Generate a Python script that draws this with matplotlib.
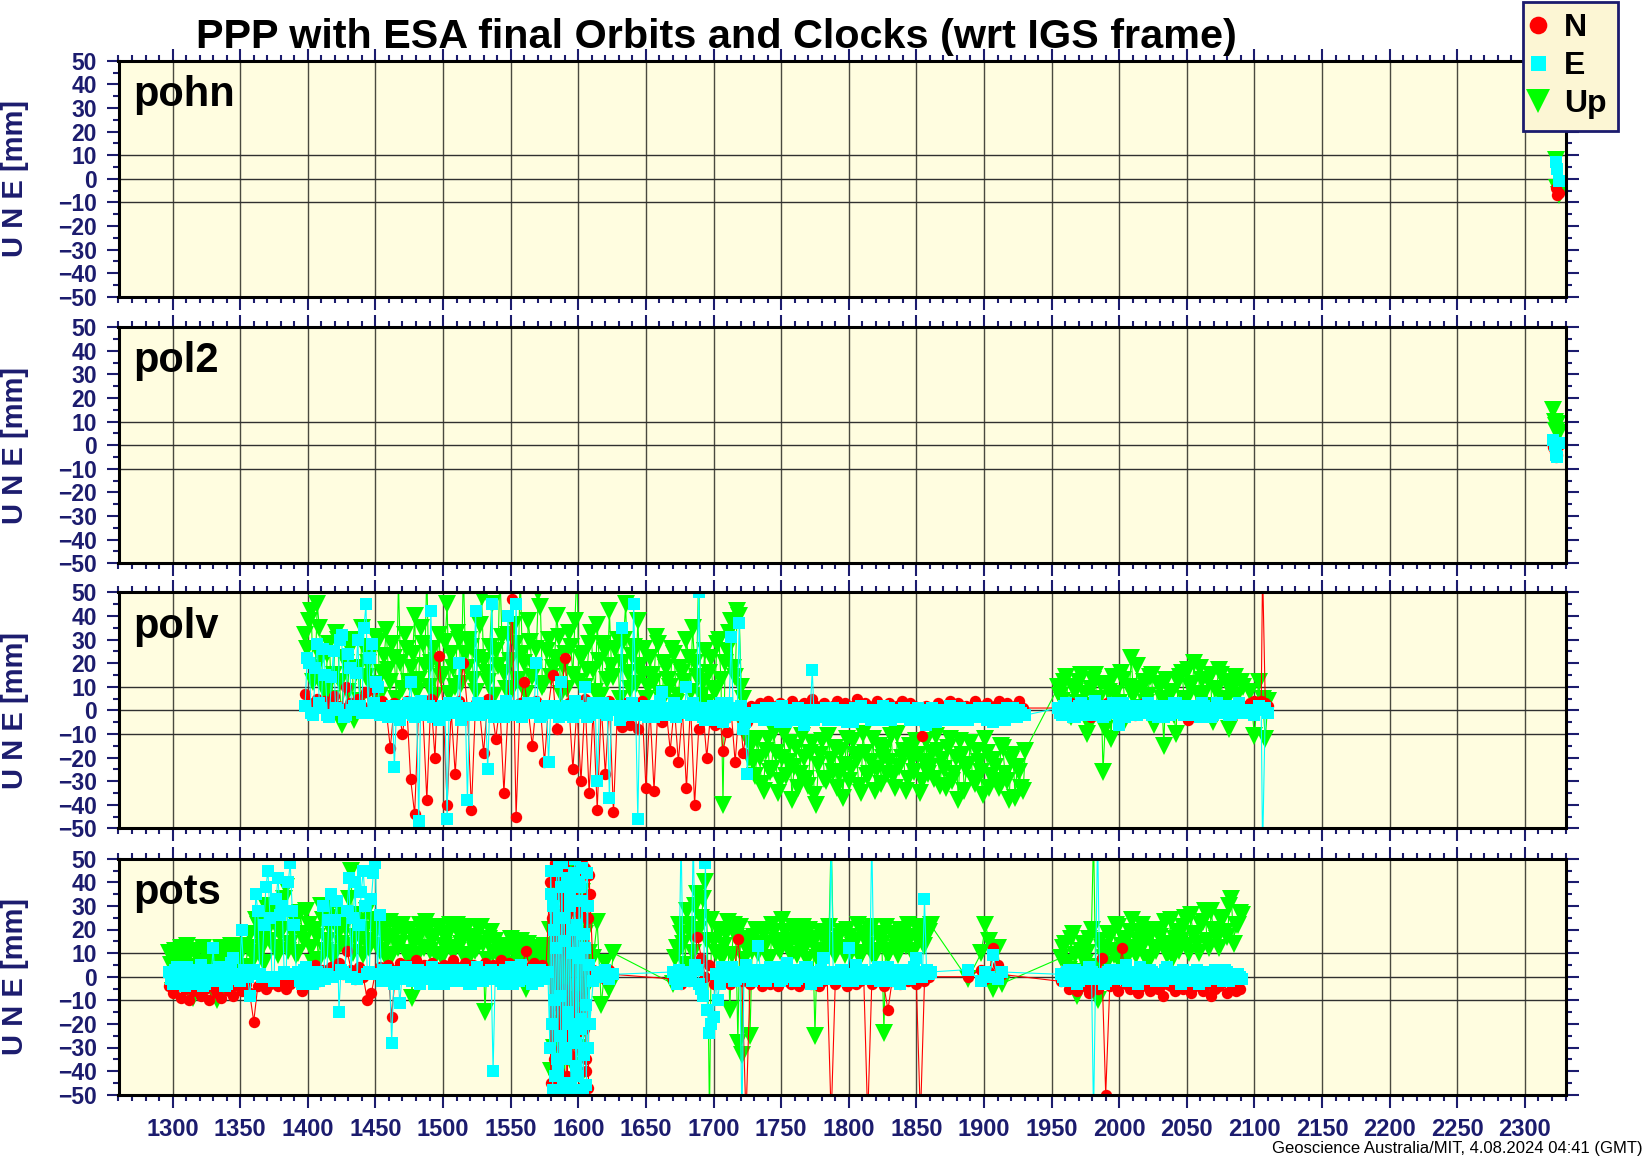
import numpy as np
import matplotlib
matplotlib.use("Agg")
import matplotlib.pyplot as plt
from matplotlib.lines import Line2D
from matplotlib.ticker import MultipleLocator

plt.rcParams['font.family'] = ['Liberation Sans', 'DejaVu Sans']
plt.rcParams['font.weight'] = 'bold'

# ---------------------------------------------------------------- text
TITLE = "PPP with ESA final Orbits and Clocks (wrt IGS frame)"
FOOTER = "Geoscience Australia/MIT, 4.08.2024 04:41 (GMT)"
YLABEL = "U N E [mm]"
STATIONS = ["pohn", "pol2", "polv", "pots"]
SERIES = ["N", "E", "Up"]
YTICKS = [-50, -40, -30, -20, -10, 0, 10, 20, 30, 40, 50]
GRID_Y = [-10, 0, 10]
XLIM = (1260, 2330)
YLIM = (-50, 50)

# ---------------------------------------------------------------- pohn
pohn_week = [2323, 2324, 2325]
pohn_n = [-4, -7, -6]
pohn_e = [7, 4, -1]
pohn_u = [8, -4, -7]

# ---------------------------------------------------------------- pol2
pol2_week = [2321, 2322, 2323, 2323, 2324, 2325]
pol2_n = [-1, -3, -5, -2, -4, 0]
pol2_e = [2, 0, -2, -4, -5, 1]
pol2_u = [15, 10, 8, 6, 9, 5]

# ---------------------------------------------------------------- polv
# segment A : weeks 1398, 1401, ... (second readings at +1.5 weeks)
polv_a_start, polv_a_step = 1398, 3
polv_a_n = [7, 3, 0, 5, 2, 4, 0, 6, 2, 1,
            10, 3, 0, 5, 2, 8, 0, 9, 2, 4,
            0, -16, 3, 1, -10, 4, -29, -44, 2, 0,
            -38, 5, -20, 23, 2, -40, 0, -27, 4, 20,
            1, -42, 3, 0, -18, 5, 1, -12, 2, -35,
            0, 47, -45, 3, 12, 0, -15, 4, 1, -22,
            2, 15, -8, 0, 22, 3, -25, 1, -30, 5,
            -35, 0, -42, 2, -27, 4, -43, 1, -7, 3,
            -6, 0, -8, 4, -33, 1, -34, 3, -5, 0,
            -17, 2, -22, 0, -33, 3, -40, -8, 1, -20,
            0, -6, 2, -17, -9, 0, -22, 2, -18, -5]
polv_a_e = [2, 20, -2, 28, 1, 15, -3, 25, 0, 32,
            -2, 18, 2, 30, -1, 45, 22, 3, 10, -2,
            1, -3, -24, 0, 2, -1, 12, -3, -47, 1,
            -2, 42, 0, -4, 2, -46, -1, 3, 20, -2,
            -38, 1, 42, -2, 0, -25, 45, -1, 2, -3,
            40, 1, 45, -2, 0, 3, -1, 20, -3, 1,
            -22, 2, 0, 12, -2, 1, -3, 2, 0, 10,
            -2, 3, -30, 1, -1, -37, 2, 0, 35, -2,
            1, 45, -46, -1, 2, 0, -3, 1, 8, -2,
            0, 3, -1, 2, 10, -2, 0, 50, -3, 1,
            -4, 2, -1, -5, 3, 31, 0, 37, -8, -27]
polv_a_e2 = [22, -1, 18, 3, 26, -2, 14, 1, 30, -3,
             24, 0, 16, 2, 35, -1, 28, 12, -2, 1,
             -3, 2, 0, -4, 1, 3, -2, 0, 4, -1,
             2, -3, 1, 0, -2, 3, -1, 2, -4, 0,
             1, -2, 3, -1, 0, 2, -3, 1, -1, 4,
             -2, 0, 2, -3, 1, -1, 3, 0, -2, 2,
             -1, 1, -3, 0, 2, -2, 4, -1, 1, -3,
             0, 2, -1, 3, -2, 1, 0, -4, 2, -1,
             3, -2, 1, 0, -3, 2, -1, 4, 0, -2,
             1, -3, 2, 0, -1, 3, -2, 1, -4, 0,
             2, -1, 3, -3, 0, 1, -2, 2, -5, -3]
polv_a_u = [32, 38, 12, 45, 22, 8, 28, 15, 30, -6,
            20, 26, -4, 18, 35, 14, 24, 8, 29, 16,
            34, 12, 22, 55, 9, 26, 18, 40, 13, 28,
            60, 20, 6, 32, 15, 45, 24, 10, 30, 60,
            18, 27, 8, 36, 21, 12, 45, 25, 60, 16,
            32, 9, 28, 60, 20, 38, 14, 26, 44, 11,
            30, 18, 40, 7, 24, 33, 15, 60, 22, 10,
            28, 17, 36, 6, 25, 42, 14, 30, 20, 45,
            9, 27, 38, 15, 5, 22, 12, 28, 4, 18,
            10, 24, 6, 16, 30, 8, 20, 60, 12, 3,
            22, 8, 30, -40, 25, 38, 14, 40, 5, -12]
polv_a_u2 = [26, 42, 18, 35, 10, 24, 5, 33, 12, 22,
             8, 30, 16, 4, 27, 20, 11, 31, 6, 23,
             17, 28, 5, 20, 32, 12, 24, 8, 35, 19,
             10, 26, 21, 14, 29, 7, 18, 33, 11, 24,
             30, 13, 22, 48, 16, 27, 6, 19, 31, 9,
             21, 36, 13, 24, 7, 29, 18, 50, 10, 25,
             14, 22, 31, 19, 9, 27, 38, 12, 24, 17,
             33, 8, 21, 28, 13, 19, 26, 5, 30, 16,
             23, 11, 19, 26, 10, 15, 31, 7, 20, 13,
             26, 3, 18, 12, 22, 35, 14, 6, 25, 16,
             9, 28, 13, 20, 33, 18, 42, 10, -8, -20]

# segment B
polv_b_start, polv_b_step = 1728, 3
polv_b_n = [2, 0, 3, 1, 4, 2, 0, 3, 1, 2,
            4, 0, 2, 3, 1, 5, 2, 0, 3, 1,
            2, 4, 1, 3, 0, 2, 5, 1, 3, 2,
            0, 4, 2, 1, 3, 0, 2, 4, 1, 3,
            2, 0, -11, 2, 1, 1, 3, 0, 2, 4,
            1, 3, 0, 2, 1, 4, 2, 0, 3, 1,
            2, 4, 1, 3, 0, 2, 4, 1]
polv_b_e = [-1, -3, 0, -4, -2, 1, -3, -5, -1, -2,
            0, -4, -2, -6, -1, 17, -3, 0, -2, -4,
            1, -1, -3, 0, -2, -5, -1, 2, -2, -3,
            0, -1, -4, -2, 1, -3, -1, -2, 0, -4,
            -2, 1, -3, -6, -1, -2, 0, -3, -1, 2,
            -2, -4, 0, -1, -3, -2, 1, -2, -4, -1,
            0, -3, -2, 1, -1, -3, 0, -2]
polv_b_e2 = [-2, 0, -3, 1, -4, -1, -2, 2, -5, -3,
             -1, 1, -3, -2, 0, -4, -1, -3, 1, -2,
             -4, 0, -2, -5, -1, 1, -3, -2, 0, -4,
             -1, -3, 2, -2, -4, 0, -3, 1, -2, -1,
             -4, -2, 0, -3, 1, -5, -2, -1, -4, 0,
             -3, 1, -2, -4, 0, -1, -3, 1, -2, -5,
             -1, 0, -4, -2, 1, -3, -1, -2]
polv_b_u = [-15, -28, -20, -34, -12, -25, -18, -30, -10, -22,
            -38, -16, -27, -20, -32, -14, -40, -19, -29, -11,
            -26, -33, -17, -23, -30, -13, -21, -35, -18, -27,
            -12, -25, -31, -16, -22, -28, -10, -20, -34, -15,
            -26, -19, -30, -13, -24, -29, -17, -21, -33, -12,
            -27, -38, -19, -25, -14, -31, -22, -36, -18, -28,
            -24, -33, -16, -30, -21, -37, -26, -34]
polv_b_u2 = [-22, -12, -31, -17, -26, -9, -35, -20, -28, -14,
             -24, -33, -11, -29, -18, -36, -23, -13, -30, -21,
             -16, -27, -37, -12, -25, -19, -32, -10, -28, -22,
             -34, -15, -20, -27, -11, -33, -24, -17, -29, -21,
             -13, -35, -22, -27, -18, -11, -32, -25, -16, -30,
             -20, -13, -34, -23, -29, -17, -26, -12, -33, -21,
             -30, -15, -27, -38, -19, -24, -33, -17]

# segment C
polv_c_start, polv_c_step = 1955, 3
polv_c_n = [1, 2, 0, 3, 1, -1, 2, 0, -3, 1,
            2, 0, 3, 1, -1, 2, 1, 0, 2, -2,
            1, 3, 0, 2, 1, -1, 2, 0, 1, 3,
            0, 2, -4, 1, 2, 0, 1, -1, 2, 3,
            0, 1, 2, -2, 1, 0]
polv_c_e = [1, -2, 3, 0, -3, 2, -1, 1, -2, 4,
            0, -3, 2, -1, 1, -6, 3, 0, -2, 2,
            -1, 1, 3, -2, 0, 2, -3, 1, -1, 3,
            0, -2, 2, -1, 1, -3, 2, 0, -2, 3,
            -1, 1, -2, 2, 0, -1]
polv_c_e2 = [-1, 2, 0, -3, 1, 3, -2, 0, 2, -1,
             1, -2, 0, 3, -1, 2, -3, 1, 0, -2,
             2, -1, 0, 1, -3, 2, 0, -2, 3, -1,
             1, 0, -2, 2, -1, 3, 0, -3, 1, -1,
             2, 0, -2, 1, 3, -1]
polv_c_u = [10, 4, 14, -3, 8, 12, 2, -10, 9, 15,
            5, -26, 11, -12, 7, 3, 13, 0, 22, 9,
            1, 12, 6, 15, -4, 10, -15, 2, 8, -10,
            14, 5, 17, 11, 0, 18, 7, 13, -5, 9,
            15, 3, -8, 11, 6, 12]
polv_c_u2 = [6, 12, -2, 10, 3, 15, 7, -6, 13, 4,
             11, -8, 8, 14, 2, 16, -4, 10, 6, 19,
             9, 3, 14, -6, 11, 5, 13, 8, -2, 12,
             16, 4, 10, 20, 7, 13, 2, 15, 9, 17,
             5, 12, 8, 14, 0, 10]

# segment D
polv_d_week = [2097, 2100, 2103, 2105, 2106, 2108, 2110]
polv_d_n = [3, 4, 2, 4, 60, 3, 2]
polv_d_e = [0, -2, 2, 0, -60, 1, -1]
polv_d_u = [8, -11, 12, 2, 5, -12, 4]

# ---------------------------------------------------------------- pots
pots_a_start, pots_a_step = 1297, 3
pots_a_n = [-4, -7, -3, -9, -5, -10, -6, -3, -8, -5,
            -10, -4, -7, -9, -3, -6, -8, -4, -6, -3,
            -7, -19, -4, -2, -5, -3, -1, -4, -2, -5,
            -3, -1, 2, -6, 4, 1, 5, -2, 3, 0,
            4, 2, 6, 1, 11, 3, -1, 4, 0, -10,
            -7, 2, 4, 1, 5, -17, 3, 6, 2, 5,
            4, 7, 3, 5, 2, 6, 4, 1, 5, 3,
            7, 4, 2, 6, 3, 5, 1, 4, 6, 3,
            5, 2, 7, 4, 6, 3, 5, 2, 11, 4,
            6, 3, 5, 2]
pots_a_e = [2, -3, 4, 0, -4, 3, -2, 1, 5, -3,
            0, 12, -2, 3, -4, 2, 8, -1, 20, 1,
            -8, 3, 28, 0, 38, 25, -2, 42, 30, 1,
            48, 22, 2, -3, 4, 0, 2, -2, 30, 1,
            35, 24, -15, 2, 28, 0, 40, 22, 45, 1,
            33, 48, 26, 3, -1, -28, 2, -11, 0, 3,
            -2, 1, -3, 2, 0, 4, -1, 2, -3, 1,
            3, -2, 0, 2, -3, 1, 4, -1, 2, 0,
            -40, 1, -2, 3, 0, -3, 2, 5, -1, 1,
            3, -2, 0, 2]
pots_a_e2 = [-1, 3, -2, 1, 4, -3, 2, 0, -4, 3,
             1, -2, 4, 0, -3, 6, 1, -2, 3, 0,
             2, 35, 1, 22, 45, 0, 33, 26, 2, 40,
             28, 1, -2, 3, 0, -3, 2, 1, -1, 24,
             0, 32, 3, 1, 42, 25, -1, 36, 30, 2,
             44, 1, -2, 3, 0, -3, 2, -1, 4, 1,
             -2, 3, 0, -1, 2, -3, 1, 3, -2, 0,
             2, -1, 3, 0, -3, 1, 2, -2, 0, 3,
             -1, 2, -3, 1, 4, 0, -2, 2, 1, -3,
             0, 3, -1, 2]
pots_a_u = [10, -6, 8, 12, 3, 9, -9, 11, 6, 2,
            10, 7, -10, 12, 5, 9, 1, 11, 13, 4,
            18, 8, 22, 12, 30, 15, 25, 9, 20, 38,
            14, 24, 10, 18, 28, 12, 20, 7, 24, 15,
            30, 10, 19, 26, 13, 45, 17, 23, 9, 28,
            15, 20, 11, 22, 16, 9, 21, 14, 19, 8,
            -9, 17, 22, 12, 20, 15, 9, 21, 13, 18,
            10, 22, 14, 19, 8, 17, 12, 21, -15, 16,
            10, 13, 7, 11, 5, 13, 8, 15, -5, 10,
            6, 12, 8, 9]
pots_a_u2 = [5, 11, -2, 7, 13, 4, 10, 1, 12, 8,
             3, 11, 7, -5, 10, 13, 6, 9, 2, 12,
             10, 24, 16, 6, 20, 28, 12, 18, 33, 11,
             19, 9, 27, 15, 22, 6, 17, 30, 11, 21,
             8, 25, 14, 21, 33, 10, 26, 16, 20, 12,
             24, 13, 19, 8, 23, 17, 12, 22, 10, 20,
             14, 9, 19, 23, 11, 17, 21, 8, 16, 22,
             12, 18, 9, 21, 15, 11, 20, 14, 7, 19,
             15, 8, 13, 10, 16, 4, 12, 9, 14, 7,
             11, 4, 13, 7]

# the disturbed stripe around week 1580-1608 (weekly readings, second at +0.5)
pots_s_start, pots_s_step = 1579, 1
pots_s_n = [40, -45, 30, -35, 48, -20, 10, -48, 35, -30,
            45, -10, 20, -42, 50, -25, 38, -50, 15, -38,
            42, -15, 28, -47, 33, -22, 46, -40, 25, 43]
pots_s_n2 = [-30, 25, -48, 42, -12, 35, -40, 20, -25, 47,
             -5, 30, -45, 15, -33, 40, -18, 45, -42, 28,
             -8, 38, -30, 48, -20, 12, -35, 25, -47, 35]
pots_s_e = [-30, 35, -48, 20, -10, 45, -40, 25, -25, 48,
            -45, 15, -35, 40, -20, 30, -50, 10, 44, -28,
            22, -42, 38, -18, 46, -33, 12, -46, 30, 5]
pots_s_e2 = [45, -20, 30, -42, 12, -35, 48, -8, 38, -48,
             25, -30, 42, -15, 35, -45, 20, -25, 50, -38,
             8, 40, -22, 32, -48, 18, -12, 44, -30, -20]
pots_s_u = [20, -40, 10, -30, 35, -45, 25, -20, 40, -35,
            15, -48, 30, -25, 45, -10, 20, -38, 28, -15,
            50, -30, 12, -42, 36, -22, 18, -5, 22, 10]

pots_t_start, pots_t_step = 1611, 3
pots_t_n = [3, 0, 2, -1, 3, 1]
pots_t_e = [-2, 2, 0, 3, -1, 1]
pots_t_u = [8, 23, -12, 6, -5, 10]

pots_b_start, pots_b_step = 1670, 3
pots_b_n = [-1, 2, -3, 1, -2, 3, 17, 8, 0, 5,
            -3, 2, -2, 1, -3, 0, 16, -2, -60, -3,
            0, -2, -4, 1, -3, -1, -4, 2, -2, -3,
            0, -4, -2, 1, -3, -1, -4, -2, 0, -60,
            -3, -1, -2, -4, 0, -3, -2, 1, -60, -3,
            -1, -2, -4, -14, -2, 0, -3, -1, -2, 1,
            -3, -60, -2, 0]
pots_b_e = [2, -3, 60, 1, -2, 60, 3, -5, 48, -24,
            -17, -10, 4, 0, 3, -2, 1, -60, 5, 2,
            -1, 13, 2, -2, 4, 0, 3, -1, 6, 1,
            -2, 3, 0, 4, -3, 2, 1, 8, -1, 60,
            2, 0, 3, -2, 1, 5, -1, 2, 0, 60,
            3, -2, 1, 4, 0, 2, -3, 1, 3, 0,
            8, 2, 33, 1]
pots_b_e2 = [-1, 3, 0, -2, 2, 5, -3, -8, -14, -20,
             1, -3, 2, 0, 4, -1, 2, 0, 3, -2,
             1, 3, -1, 2, 0, 4, -2, 1, 3, 0,
             -1, 2, 4, 0, 1, -2, 3, 1, 0, 2,
             -1, 3, 1, 12, -2, 0, 3, 1, -1, 2,
             4, 0, 2, -2, 1, 3, 0, 2, -1, 4,
             1, 0, 3, 2]
pots_b_u = [-3, 12, 18, 5, 22, 10, 35, 25, 40, -60,
            15, 20, 8, 18, -14, 22, -28, -33, 12, -25,
            17, 10, 20, 14, 8, 19, 12, 24, 15, 9,
            18, 13, 21, 7, 16, -25, 11, 19, 14, 60,
            9, 17, 12, 20, 10, 15, 8, 18, 13, 21,
            11, 16, -24, 9, 18, 12, 20, 14, 22, 10,
            17, 21, 13, 19]
pots_b_u2 = [8, 22, 14, 28, 18, 30, 20, 33, 15, 24,
             10, 19, 13, 23, 9, 17, 21, 7, 16, 11,
             20, 13, 18, 8, 22, 15, 11, 19, 13, 21,
             9, 16, 12, 20, 14, 8, 18, 11, 21, 15,
             12, 19, 9, 17, 13, 22, 10, 16, 20, 8,
             18, 14, 21, 11, 16, 9, 19, 13, 17, 11,
             20, 15, 18, 22]

pots_c_week = [1888, 1898, 1901, 1904, 1907, 1910, 1913]
pots_c_n = [0, 3, -1, 2, 12, 5, 1]
pots_c_e = [3, -2, 2, 0, 9, -1, 2]
pots_c_u = [-1, 10, 22, 15, -5, 12, -3]

pots_d_start, pots_d_step = 1957, 3
pots_d_n = [-2, 3, -5, -3, -6, -2, -4, -7, -3, -5,
            8, -50, -4, -2, -6, 12, -3, -5, -2, -7,
            -4, -3, -6, -2, -5, -8, -3, -4, -6, -2,
            -5, -3, -7, -4, -2, -6, -3, -8, -5, -4,
            -2, -7, -3, -6, -5]
pots_d_e = [1, -2, 3, 0, -3, 2, -1, 4, -60, 60,
            1, -2, 3, 0, -1, 2, 5, -2, 1, -3,
            2, 0, 3, -1, 1, -2, 4, 0, 2, -1,
            3, -2, 1, 0, -3, 2, 1, -1, 3, 0,
            -2, 2, 1, -1, 0]
pots_d_e2 = [0, 2, -1, 3, -2, 1, 0, 2, -1, 1,
             -3, 2, 0, 3, -1, 1, -2, 2, 0, 4,
             -1, 1, 2, -2, 0, 3, -1, 1, 2, -3,
             0, 2, -1, 3, 1, -2, 0, 2, -1, 1,
             3, -2, 0, 1, -1]
pots_d_u = [8, 14, 3, 18, -8, 11, 6, 16, 60, -10,
            12, 5, 17, 9, 21, 13, 7, 19, 11, 15,
            22, 8, 17, 12, 20, 14, 9, 24, 16, 11,
            21, 13, 26, 18, 10, 23, 15, 28, 19, 12,
            25, 17, 33, 22, 27]
pots_d_u2 = [12, 6, 16, 9, 2, 14, 10, 20, 4, 15,
             8, 18, 11, 22, 6, 16, 12, 24, 9, 18,
             14, 6, 20, 11, 17, 23, 13, 8, 19, 15,
             25, 10, 18, 14, 22, 28, 12, 20, 16, 24,
             19, 30, 14, 22, 26]

# ---------------------------------------------------------------- styles
BG = "#fffde0"
LEG_BG = "#fcf6d4"
NAVY = "#1c1c6e"
RED = "#ff0000"
CYAN = "#00ffff"
GREEN = "#00ff00"


def regular(start, step, values, offset=0.0):
    return start + offset + step * np.arange(len(values))


def series(parts):
    """parts: list of (weeks, values); returns week-sorted arrays."""
    w = np.concatenate([np.asarray(p[0], float) for p in parts])
    v = np.concatenate([np.asarray(p[1], float) for p in parts])
    order = np.argsort(w, kind='stable')
    return w[order], v[order]


A, B, C = (polv_a_start, polv_a_step), (polv_b_start, polv_b_step), (polv_c_start, polv_c_step)
PA, PS, PT = (pots_a_start, pots_a_step), (pots_s_start, pots_s_step), (pots_t_start, pots_t_step)
PB, PD = (pots_b_start, pots_b_step), (pots_d_start, pots_d_step)

data = {
    "pohn": {"N": series([(pohn_week, pohn_n)]),
             "E": series([(pohn_week, pohn_e)]),
             "Up": series([(pohn_week, pohn_u)])},
    "pol2": {"N": series([(pol2_week, pol2_n)]),
             "E": series([(pol2_week, pol2_e)]),
             "Up": series([(pol2_week, pol2_u)])},
    "polv": {
        "N": series([(regular(*A, polv_a_n), polv_a_n),
                     (regular(*B, polv_b_n), polv_b_n),
                     (regular(*C, polv_c_n), polv_c_n),
                     (polv_d_week, polv_d_n)]),
        "E": series([(regular(*A, polv_a_e), polv_a_e),
                     (regular(*A, polv_a_e2, 1.5), polv_a_e2),
                     (regular(*B, polv_b_e), polv_b_e),
                     (regular(*B, polv_b_e2, 1.5), polv_b_e2),
                     (regular(*C, polv_c_e), polv_c_e),
                     (regular(*C, polv_c_e2, 1.5), polv_c_e2),
                     (polv_d_week, polv_d_e)]),
        "Up": series([(regular(*A, polv_a_u), polv_a_u),
                      (regular(*A, polv_a_u2, 1.5), polv_a_u2),
                      (regular(*B, polv_b_u), polv_b_u),
                      (regular(*B, polv_b_u2, 1.5), polv_b_u2),
                      (regular(*C, polv_c_u), polv_c_u),
                      (regular(*C, polv_c_u2, 1.5), polv_c_u2),
                      (polv_d_week, polv_d_u)]),
    },
    "pots": {
        "N": series([(regular(*PA, pots_a_n), pots_a_n),
                     (regular(*PS, pots_s_n), pots_s_n),
                     (regular(*PS, pots_s_n2, 0.5), pots_s_n2),
                     (regular(*PT, pots_t_n), pots_t_n),
                     (regular(*PB, pots_b_n), pots_b_n),
                     (pots_c_week, pots_c_n),
                     (regular(*PD, pots_d_n), pots_d_n)]),
        "E": series([(regular(*PA, pots_a_e), pots_a_e),
                     (regular(*PA, pots_a_e2, 1.5), pots_a_e2),
                     (regular(*PS, pots_s_e), pots_s_e),
                     (regular(*PS, pots_s_e2, 0.5), pots_s_e2),
                     (regular(*PT, pots_t_e), pots_t_e),
                     (regular(*PB, pots_b_e), pots_b_e),
                     (regular(*PB, pots_b_e2, 1.5), pots_b_e2),
                     (pots_c_week, pots_c_e),
                     (regular(*PD, pots_d_e), pots_d_e),
                     (regular(*PD, pots_d_e2, 1.5), pots_d_e2)]),
        "Up": series([(regular(*PA, pots_a_u), pots_a_u),
                      (regular(*PA, pots_a_u2, 1.5), pots_a_u2),
                      (regular(*PS, pots_s_u), pots_s_u),
                      (regular(*PT, pots_t_u), pots_t_u),
                      (regular(*PB, pots_b_u), pots_b_u),
                      (regular(*PB, pots_b_u2, 1.5), pots_b_u2),
                      (pots_c_week, pots_c_u),
                      (regular(*PD, pots_d_u), pots_d_u),
                      (regular(*PD, pots_d_u2, 1.5), pots_d_u2)]),
    },
}

STYLE = {
    "Up": dict(color=GREEN, marker='v', ms=12.5, zorder=3),
    "N": dict(color=RED, marker='o', ms=8.2, zorder=4),
    "E": dict(color=CYAN, marker='s', ms=8.8, zorder=5),
}

# ---------------------------------------------------------------- figure
W, H = 1644, 1158
fig = plt.figure(figsize=(W / 100, H / 100), dpi=100)

ax_left_px, ax_right_px = 118.5, 1565.5
ax_left = ax_left_px / W
ax_width = (ax_right_px - ax_left_px) / W
panel_tops_px = [60.8, 327.1, 592.4, 858.7]
panel_h_px = 236.0

for k, st in enumerate(STATIONS):
    top = panel_tops_px[k]
    ax = fig.add_axes([ax_left, 1 - (top + panel_h_px) / H, ax_width, panel_h_px / H])
    ax.set_facecolor(BG)
    ax.set_xlim(*XLIM)
    ax.set_ylim(*YLIM)
    ax.set_axisbelow(True)

    for name in ["Up", "N", "E"]:
        wk, val = data[st][name]
        ax.plot(wk, val, lw=0.8, mew=0, **STYLE[name])

    ax.xaxis.set_major_locator(MultipleLocator(50))
    ax.xaxis.set_minor_locator(MultipleLocator(10))
    ax.set_yticks(YTICKS)
    ax.yaxis.set_minor_locator(MultipleLocator(5))
    ax.grid(True, axis='x', which='major', color='#4a4a40', lw=1.0, zorder=1)
    for gy in GRID_Y:
        ax.axhline(gy, color='#303030', lw=1.0, zorder=1)

    ax.tick_params(axis='both', which='major', direction='out', length=9,
                   width=1.5, color=NAVY, labelcolor=NAVY)
    ax.tick_params(axis='both', which='minor', direction='out', length=4.5,
                   width=1.5, color=NAVY)
    ax.tick_params(axis='x', which='both', top=True, bottom=True,
                   labelbottom=(k == len(STATIONS) - 1), labeltop=False)
    ax.tick_params(axis='x', which='major', labelsize=17, pad=8)
    ax.tick_params(axis='y', which='both', left=True, right=True,
                   labelleft=True, labelright=False)
    ax.tick_params(axis='y', which='major', labelsize=16.5, pad=6.5)

    for sp in ax.spines.values():
        sp.set_color('black')
        sp.set_linewidth(2.2)
        sp.set_zorder(6)

    ax.set_ylabel(YLABEL, fontsize=21, color=NAVY, fontweight='bold')
    ax.yaxis.set_label_coords((29 - ax_left_px) / (ax_right_px - ax_left_px), 0.5)

    ax.text(0.01, 0.94, st, transform=ax.transAxes, fontsize=30,
            fontweight='bold', color='black', ha='left', va='top', zorder=10)

fig.text(716 / W, 1 - 48 / H, TITLE, ha='center', va='baseline',
         fontsize=29.8, fontweight='bold', color='black')
fig.text(1643 / W, 1 - 1153 / H, FOOTER, ha='right', va='baseline',
         fontsize=12, fontweight='normal', color='black')

handles = [
    Line2D([], [], ls='none', marker='o', color=RED, ms=12.7, mew=0),
    Line2D([], [], ls='none', marker='s', color=CYAN, ms=10.8, mew=0),
    Line2D([], [], ls='none', marker='v', color=GREEN, ms=17, mew=0),
]
leg = fig.legend(handles, SERIES, loc='upper left',
                 bbox_to_anchor=(1523 / W, 1 - 1.7 / H), bbox_transform=fig.transFigure,
                 prop={'size': 23, 'weight': 'bold'}, frameon=True, fancybox=False,
                 framealpha=1, facecolor=LEG_BG, edgecolor=NAVY,
                 borderpad=0.35, labelspacing=0.26, handlelength=0.24,
                 handletextpad=0.7, borderaxespad=0)
leg.get_frame().set_linewidth(2)
leg.set_zorder(20)

fig.savefig("out.png", dpi=100)
